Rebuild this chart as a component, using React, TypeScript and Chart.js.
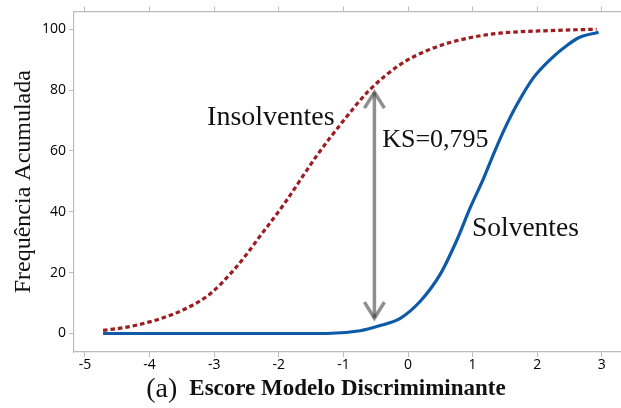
import React, { useEffect, useRef } from "react";
import { Chart, registerables } from "chart.js";

Chart.register(...registerables);

// Cumulative frequency (%) of the discriminant score, by group
const insolventesX = [-4.72, -4.35, -3.84, -3.43, -3.07, -2.7, -2.5, -2.29, -1.93, -1.41, -1.0, -0.61, -0.12, 0.39, 0.91, 1.42, 2.27, 2.92];
const insolventesY = [1.0, 2.1, 4.8, 8.3, 12.9, 20.8, 26.0, 32.0, 42.2, 58.5, 69.9, 79.7, 88.4, 93.8, 97.0, 98.7, 99.6, 100];

const solventesX = [-4.72, -1.26, -0.74, -0.43, -0.12, 0.19, 0.5, 0.75, 0.96, 1.17, 1.35, 1.53, 1.68, 1.94, 2.25, 2.48, 2.65, 2.95];
const solventesY = [0, 0, 0.9, 2.6, 5.0, 10.6, 19.5, 30.4, 41.2, 51.0, 60.3, 68.8, 75.0, 84.0, 91.0, 95.0, 97.3, 99.0];

const xTicks = [-5, -4, -3, -2, -1, 0, 1, 2, 3];
const yTicks = [0, 20, 40, 60, 80, 100];

// Kolmogorov-Smirnov statistic and where the maximum gap is marked
const ksValue = 0.795;
const ksAt = -0.52;

const xTitle = "Escore Modelo Discrimiminante";
const panelTag = "(a)";
const yTitle = "Frequência Acumulada";

const SERIF = "'Liberation Serif', 'Times New Roman', serif";
const SANS = "'Open Sans', 'Noto Sans', sans-serif";
const AXIS_GRAY = "#bcbcbc";
const TEXT = "#111111";

const curveLabels = [
  { text: "Insolventes", x: -3.11, y: 68.6, size: 28 },
  { text: "Solventes", x: 0.99, y: 32.0, size: 27.5 },
  { text: "KS=0,795", x: -0.4, y: 61.3, size: 26 },
];

function interp(xs: number[], ys: number[], v: number): number {
  for (let i = 0; i < xs.length - 1; i++) {
    if (v >= xs[i] && v <= xs[i + 1]) {
      const t = (v - xs[i]) / (xs[i + 1] - xs[i]);
      return ys[i] + t * (ys[i + 1] - ys[i]);
    }
  }
  return v < xs[0] ? ys[0] : ys[ys.length - 1];
}

const overlayPlugin = {
  id: "ksOverlay",
  afterDatasetsDraw(chart: any) {
    const { ctx } = chart;
    const x = chart.scales.x;
    const y = chart.scales.y;

    // KS arrow between the two curves
    const base = interp(solventesX, solventesY, ksAt);
    const upper = base + ksValue * 100;
    const px = x.getPixelForValue(ksAt);
    const yLow = y.getPixelForValue(base) - 9;
    const yHigh = y.getPixelForValue(upper) + 7;
    ctx.save();
    ctx.strokeStyle = "rgba(51,51,51,0.55)";
    ctx.lineWidth = 3.5;
    ctx.lineCap = "butt";
    ctx.lineJoin = "miter";
    ctx.beginPath();
    ctx.moveTo(px, yLow);
    ctx.lineTo(px, yHigh);
    ctx.stroke();
    ctx.beginPath();
    ctx.moveTo(px - 10, yHigh + 16);
    ctx.lineTo(px, yHigh);
    ctx.lineTo(px + 10, yHigh + 16);
    ctx.stroke();
    ctx.beginPath();
    ctx.moveTo(px - 10, yLow - 16);
    ctx.lineTo(px, yLow);
    ctx.lineTo(px + 10, yLow - 16);
    ctx.stroke();

    // curve names and KS value
    ctx.fillStyle = TEXT;
    ctx.textAlign = "left";
    ctx.textBaseline = "alphabetic";
    for (const l of curveLabels) {
      ctx.font = `${l.size}px ${SERIF}`;
      ctx.fillText(l.text, x.getPixelForValue(l.x), y.getPixelForValue(l.y));
    }

    // panel tag left of the x-axis title
    ctx.font = `bold 23px ${SERIF}`;
    const titleW = ctx.measureText(xTitle).width;
    const center = (x.left + x.right) / 2;
    ctx.font = `28px ${SERIF}`;
    ctx.textAlign = "right";
    ctx.fillText(panelTag, center - titleW / 2 - 12, x.bottom - 11);
    ctx.restore();
  },
};

const xMin = -5.17;
const xMax = 3.297;
const yMin = -6.08;
const yMax = 105.86;

export default function App() {
  const canvasRef = useRef<HTMLCanvasElement | null>(null);

  useEffect(() => {
    const canvas = canvasRef.current;
    if (!canvas) return;

    const setTicks = (values: number[]) => (scale: any) => {
      scale.ticks = values.map((v) => ({ value: v }));
    };
    const gridOpts = {
      display: true,
      drawOnChartArea: false,
      drawTicks: true,
      tickLength: 5,
      color: AXIS_GRAY,
      lineWidth: 1,
    };
    const borderOpts = { display: true, color: AXIS_GRAY, width: 1.2 };
    const tickFont = { family: SANS, size: 14 };

    const chart = new Chart(canvas, {
      type: "scatter",
      data: {
        datasets: [
          {
            label: "Insolventes",
            data: insolventesX.map((v, i) => ({ x: v, y: insolventesY[i] })),
            showLine: true,
            borderColor: "#9c1c20",
            borderWidth: 3.2,
            borderDash: [4.5, 3],
            borderCapStyle: "butt",
            pointRadius: 0,
            cubicInterpolationMode: "monotone",
            fill: false,
            order: 2,
          },
          {
            label: "Solventes",
            data: solventesX.map((v, i) => ({ x: v, y: solventesY[i] })),
            showLine: true,
            borderColor: "#0e5aa7",
            borderWidth: 3.2,
            pointRadius: 0,
            cubicInterpolationMode: "monotone",
            fill: false,
            order: 1,
          },
        ],
      },
      options: {
        responsive: false,
        animation: false,
        devicePixelRatio: 1,
        layout: { padding: 0 },
        plugins: {
          legend: { display: false },
          title: { display: false },
          tooltip: { enabled: false },
        },
        scales: {
          x: {
            type: "linear",
            position: "bottom",
            min: xMin,
            max: xMax,
            afterBuildTicks: setTicks(xTicks),
            afterFit: (s: any) => {
              s.height = 56;
            },
            grid: gridOpts,
            border: borderOpts,
            ticks: {
              font: tickFont,
              color: "#000000",
              padding: 0,
              maxRotation: 0,
              autoSkip: false,
              callback: (v: any) => String(v),
            },
            title: {
              display: true,
              text: xTitle,
              color: TEXT,
              font: { family: SERIF, size: 23, weight: "bold" },
              padding: { top: 0, bottom: 5 },
            },
          },
          x2: {
            type: "linear",
            axis: "x",
            position: "top",
            min: xMin,
            max: xMax,
            afterBuildTicks: setTicks(xTicks),
            afterFit: (s: any) => {
              s.height = 8;
            },
            grid: gridOpts,
            border: borderOpts,
            ticks: { display: false },
          },
          y: {
            type: "linear",
            position: "left",
            min: yMin,
            max: yMax,
            afterBuildTicks: setTicks(yTicks),
            afterFit: (s: any) => {
              s.width = 74;
            },
            grid: gridOpts,
            border: borderOpts,
            ticks: {
              font: tickFont,
              color: "#000000",
              padding: 3,
              callback: (v: any) => String(v),
            },
            title: {
              display: true,
              text: yTitle,
              color: TEXT,
              font: { family: SERIF, size: 24 },
              padding: { top: 9, bottom: 0 },
            },
          },
        },
      } as any,
      plugins: [overlayPlugin],
    });

    return () => chart.destroy();
  }, []);

  return (
    <div style={{ position: "absolute", left: 0, top: 0, width: 621, height: 408, background: "#ffffff" }}>
      <canvas ref={canvasRef} width={621} height={408} style={{ display: "block" }} />
    </div>
  );
}
